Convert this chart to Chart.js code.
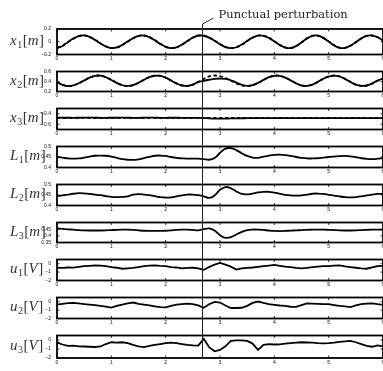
<!DOCTYPE html>
<html><head><meta charset="utf-8">
<script src="https://cdn.jsdelivr.net/npm/chart.js@4"></script>
<style>
html,body{margin:0;padding:0;background:#fff;overflow:hidden;width:383px;height:371px;}
#wrap{position:relative;width:383px;height:371px;overflow:hidden;background:#fff;}
canvas{position:absolute;left:0;}
</style></head><body><div id="wrap"></div>
<script>
// ---------------- data ----------------
const time = [0,0.1,0.2,0.3,0.4,0.5,0.6,0.7,0.8,0.9,1,1.1,1.2,1.3,1.4,1.5,1.6,1.7,1.8,1.9,2,2.1,2.2,2.3,2.4,2.5,2.6,2.7,2.8,2.9,3,3.1,3.2,3.3,3.4,3.5,3.6,3.7,3.8,3.9,4,4.1,4.2,4.3,4.4,4.5,4.6,4.7,4.8,4.9,5,5.1,5.2,5.3,5.4,5.5,5.6,5.7,5.8,5.9,6];
const timeTicks = [0,1,2,3,4,5,6];
const perturbTime = 2.67;
const perturbLabel = 'Punctual perturbation';

const x1Ref = [-0.096,-0.063,-0.009,0.048,0.089,0.099,0.078,0.031,-0.026,-0.073,-0.098,-0.092,-0.054,0.0,0.054,0.092,0.098,0.074,0.026,-0.031,-0.077,-0.099,-0.089,-0.048,0.009,0.063,0.096,0.096,0.068,0.019,-0.035,-0.079,-0.099,-0.089,-0.048,0.009,0.063,0.096,0.096,0.063,0.009,-0.048,-0.089,-0.099,-0.071,-0.013,0.05,0.092,0.097,0.064,0.006,-0.053,-0.093,-0.097,-0.065,-0.009,0.05,0.091,0.098,0.074,0.026];
const x1 = [-0.1,-0.066,-0.006,0.05,0.09,0.1,0.076,0.028,-0.028,-0.075,-0.1,-0.09,-0.05,0.004,0.056,0.093,0.097,0.072,0.022,-0.034,-0.079,-0.1,-0.087,-0.045,0.012,0.066,0.098,0.094,0.064,0.015,-0.04,-0.083,-0.1,-0.086,-0.044,0.012,0.066,0.097,0.094,0.06,0.005,-0.052,-0.091,-0.098,-0.068,-0.01,0.053,0.094,0.095,0.061,0.002,-0.057,-0.095,-0.096,-0.061,-0.005,0.053,0.093,0.096,0.07,0.022];
const x2Ref = [0.39,0.335,0.311,0.321,0.362,0.42,0.478,0.514,0.517,0.487,0.433,0.374,0.327,0.31,0.327,0.374,0.433,0.487,0.517,0.514,0.478,0.421,0.362,0.321,0.311,0.336,0.39,0.453,0.501,0.52,0.506,0.467,0.415,0.362,0.324,0.31,0.327,0.371,0.43,0.484,0.516,0.515,0.481,0.424,0.364,0.321,0.311,0.336,0.39,0.453,0.501,0.52,0.502,0.454,0.393,0.339,0.312,0.318,0.358,0.415,0.46];
const x2 = [0.392,0.333,0.309,0.323,0.364,0.422,0.476,0.512,0.518,0.485,0.43,0.372,0.325,0.311,0.329,0.376,0.435,0.489,0.515,0.512,0.476,0.419,0.36,0.32,0.312,0.338,0.392,0.415,0.435,0.452,0.46,0.452,0.425,0.38,0.335,0.312,0.329,0.373,0.432,0.486,0.514,0.513,0.479,0.422,0.362,0.32,0.313,0.338,0.392,0.455,0.499,0.518,0.5,0.452,0.391,0.338,0.313,0.32,0.36,0.417,0.458];
const x3RefLevel = -0.48;
const x3 = [-0.475,-0.476,-0.476,-0.477,-0.476,-0.475,-0.475,-0.476,-0.477,-0.477,-0.476,-0.476,-0.475,-0.476,-0.477,-0.477,-0.476,-0.475,-0.476,-0.477,-0.477,-0.476,-0.476,-0.477,-0.477,-0.477,-0.478,-0.482,-0.488,-0.492,-0.493,-0.492,-0.49,-0.488,-0.486,-0.485,-0.484,-0.484,-0.483,-0.483,-0.483,-0.483,-0.483,-0.484,-0.484,-0.483,-0.483,-0.482,-0.482,-0.483,-0.483,-0.483,-0.482,-0.482,-0.482,-0.483,-0.483,-0.482,-0.482,-0.482,-0.482];
const L1 = [0.45,0.447,0.443,0.442,0.443,0.447,0.452,0.456,0.457,0.456,0.452,0.446,0.44,0.437,0.436,0.439,0.445,0.451,0.456,0.457,0.455,0.45,0.446,0.443,0.442,0.442,0.442,0.44,0.437,0.445,0.47,0.49,0.492,0.483,0.468,0.455,0.447,0.446,0.452,0.457,0.46,0.461,0.459,0.455,0.45,0.446,0.443,0.443,0.444,0.447,0.45,0.452,0.454,0.455,0.453,0.449,0.444,0.441,0.44,0.442,0.445];
const L2 = [0.445,0.448,0.452,0.456,0.459,0.458,0.455,0.452,0.449,0.445,0.441,0.44,0.441,0.443,0.452,0.454,0.452,0.449,0.445,0.44,0.438,0.439,0.443,0.448,0.452,0.452,0.449,0.444,0.436,0.448,0.475,0.488,0.482,0.467,0.455,0.453,0.457,0.462,0.465,0.465,0.461,0.456,0.451,0.448,0.447,0.448,0.452,0.456,0.457,0.455,0.451,0.447,0.443,0.44,0.439,0.44,0.443,0.448,0.452,0.455,0.456];
const L3 = [0.455,0.452,0.449,0.446,0.443,0.441,0.44,0.44,0.44,0.441,0.443,0.445,0.446,0.446,0.444,0.441,0.438,0.437,0.437,0.437,0.438,0.441,0.445,0.447,0.447,0.444,0.441,0.45,0.456,0.44,0.405,0.385,0.39,0.41,0.43,0.443,0.447,0.447,0.444,0.44,0.437,0.436,0.437,0.439,0.441,0.443,0.445,0.447,0.447,0.447,0.445,0.443,0.441,0.44,0.44,0.441,0.443,0.445,0.447,0.447,0.446];
const u1 = [-0.48,-0.5,-0.45,-0.47,-0.38,-0.3,-0.25,-0.2,-0.24,-0.3,-0.42,-0.48,-0.6,-0.55,-0.5,-0.4,-0.3,-0.22,-0.2,-0.26,-0.3,-0.4,-0.45,-0.55,-0.5,-0.48,-0.55,-0.72,-0.4,-0.1,0.1,-0.1,-0.35,-0.7,-0.55,-0.5,-0.45,-0.38,-0.3,-0.22,-0.15,-0.25,-0.35,-0.42,-0.5,-0.55,-0.5,-0.4,-0.35,-0.3,-0.28,-0.22,-0.2,-0.32,-0.4,-0.48,-0.55,-0.6,-0.45,-0.3,-0.25];
const u2 = [-0.36,-0.25,-0.18,-0.15,-0.2,-0.28,-0.35,-0.42,-0.5,-0.58,-0.7,-0.5,-0.35,-0.2,-0.1,-0.25,-0.35,-0.45,-0.55,-0.65,-0.68,-0.5,-0.35,-0.28,-0.22,-0.3,-0.45,-0.72,-0.3,-0.02,-0.1,-0.45,-0.75,-0.75,-0.72,-0.5,-0.15,0.02,-0.15,-0.3,-0.38,-0.45,-0.5,-0.6,-0.62,-0.4,-0.2,-0.22,-0.25,-0.28,-0.3,-0.4,-0.5,-0.55,-0.65,-0.45,-0.3,-0.22,-0.2,-0.3,-0.38];
const u3 = [-0.27,-0.5,-0.65,-0.62,-0.7,-0.72,-0.75,-0.78,-0.72,-0.45,-0.25,-0.3,-0.25,-0.35,-0.55,-0.7,-0.78,-0.65,-0.55,-0.45,-0.35,-0.3,-0.35,-0.45,-0.55,-0.6,-0.62,0.13,-0.8,-1.25,-1.1,-0.7,-0.1,-0.05,-0.05,-0.1,-0.4,-1.1,-0.55,-0.45,-0.5,-0.48,-0.4,-0.35,-0.3,-0.25,-0.28,-0.3,-0.35,-0.38,-0.35,-0.3,-0.2,-0.15,-0.1,-0.25,-0.45,-0.65,-0.75,-0.6,-0.7];

const x1Ticks = [-0.2,0,0.2];
const x2Ticks = [0.2,0.4,0.6];
const x3Ticks = [-0.6,-0.4];
const LTicks = [0.4,0.45,0.5];
const L3Ticks = [0.35,0.4,0.45];
const uTicks = [-2,-1,0];

// ---------------- layout ----------------
const panelTops = [29,67,104,142,180,218,255,293,331];
const panelH = 27;
const plotLeft = 57, plotRight = 383, canvasW = 400;

const pts = (vals) => vals.map((v,i)=>({x:time[i], y:v}));
const flat = (lvl) => [{x:time[0],y:lvl},{x:time[time.length-1],y:lvl}];

const panels = [
  {sym:'x',sub:'1',unit:'m',min:-0.2,max:0.2,ticks:x1Ticks,sets:[{d:pts(x1Ref),dash:true},{d:pts(x1)}],smooth:true},
  {sym:'x',sub:'2',unit:'m',min:0.2,max:0.6,ticks:x2Ticks,sets:[{d:pts(x2Ref),dash:true},{d:pts(x2)}],smooth:true},
  {sym:'x',sub:'3',unit:'m',min:-0.7,max:-0.3,ticks:x3Ticks,sets:[{d:flat(x3RefLevel),dash:true},{d:pts(x3)}],smooth:true},
  {sym:'L',sub:'1',unit:'m',min:0.4,max:0.5,ticks:LTicks,sets:[{d:pts(L1)}],smooth:true},
  {sym:'L',sub:'2',unit:'m',min:0.4,max:0.5,ticks:LTicks,sets:[{d:pts(L2)}],smooth:true},
  {sym:'L',sub:'3',unit:'m',min:0.35,max:0.5,ticks:L3Ticks,sets:[{d:pts(L3)}],smooth:true},
  {sym:'u',sub:'1',unit:'V',min:-2,max:0.5,ticks:uTicks,sets:[{d:pts(u1)}],smooth:false},
  {sym:'u',sub:'2',unit:'V',min:-2,max:0.5,ticks:uTicks,sets:[{d:pts(u2)}],smooth:false},
  {sym:'u',sub:'3',unit:'V',min:-2,max:0.5,ticks:uTicks,sets:[{d:pts(u3)}],smooth:false},
];

const fmt = v => {
  let s = String(Math.round(v*1000)/1000);
  return s.replace('-', '\u2212');
};

function drawLabel(ctx, x, yBase, sym, sub, unit){
  ctx.fillStyle = '#333';
  ctx.textBaseline = 'alphabetic'; ctx.textAlign = 'left';
  ctx.font = 'italic 15px "Liberation Serif"';
  ctx.fillText(sym, x, yBase); x += ctx.measureText(sym).width + 0.5;
  ctx.font = '10px "Liberation Serif"';
  ctx.fillText(sub, x, yBase + 3); x += ctx.measureText(sub).width + 0.5;
  ctx.font = '15px "Liberation Serif"';
  ctx.fillText('[', x, yBase); x += ctx.measureText('[').width;
  ctx.font = 'italic 15px "Liberation Serif"';
  ctx.fillText(unit, x, yBase); x += ctx.measureText(unit).width + 0.5;
  ctx.font = '15px "Liberation Serif"';
  ctx.fillText(']', x, yBase);
}

const wrap = document.getElementById('wrap');
panels.forEach((p, i) => {
  const top = i === 0 ? 0 : panelTops[i] - 4;
  const bottom = i === panels.length - 1 ? 371 : panelTops[i+1] - 4;
  const H = bottom - top;
  const padTop = panelTops[i] - top;
  const cv = document.createElement('canvas');
  cv.width = canvasW; cv.height = H;
  cv.style.width = canvasW + 'px'; cv.style.height = H + 'px';
  cv.style.top = top + 'px';
  wrap.appendChild(cv);

  const plugin = {
    id: 'frame' + i,
    afterDraw(chart){
      const {ctx, chartArea:a, scales:{x, y}} = chart;
      ctx.save();
      // frame
      ctx.strokeStyle = '#000'; ctx.lineWidth = 1.8;
      ctx.strokeRect(a.left, a.top, a.right - a.left, a.bottom - a.top);
      // inward ticks
      ctx.lineWidth = 0.8;
      ctx.beginPath();
      x.ticks.forEach(t => {
        const px = x.getPixelForValue(t.value);
        ctx.moveTo(px, a.bottom); ctx.lineTo(px, a.bottom - 2.5);
        ctx.moveTo(px, a.top); ctx.lineTo(px, a.top + 2.5);
      });
      y.ticks.forEach(t => {
        const py = y.getPixelForValue(t.value);
        ctx.moveTo(a.left, py); ctx.lineTo(a.left + 2.5, py);
        ctx.moveTo(a.right, py); ctx.lineTo(a.right - 2.5, py);
      });
      ctx.stroke();
      // perturbation line
      const vx = Math.round(x.getPixelForValue(perturbTime)) + 0.5;
      const y0 = i === 0 ? a.top - 5 : 0;
      const y1 = i === panels.length - 1 ? a.bottom : chart.height;
      ctx.strokeStyle = '#222'; ctx.lineWidth = 1;
      ctx.beginPath(); ctx.moveTo(vx, y0); ctx.lineTo(vx, y1); ctx.stroke();
      if (i === 0) {
        ctx.beginPath(); ctx.moveTo(vx, a.top - 5); ctx.lineTo(vx + 11, a.top - 11); ctx.stroke();
        ctx.fillStyle = '#222';
        ctx.font = '11.5px "DejaVu Serif"';
        ctx.textAlign = 'left'; ctx.textBaseline = 'alphabetic';
        ctx.fillText(perturbLabel, vx + 16, a.top - 11.5);
      }
      // y label
      drawLabel(ctx, 10, (a.top + a.bottom) / 2 + 3, p.sym, p.sub, p.unit);
      ctx.restore();
    }
  };

  new Chart(cv, {
    type: 'line',
    data: {
      datasets: p.sets.map(s => ({
        data: s.d,
        borderColor: '#000',
        borderWidth: 1.8,
        borderDash: s.dash ? [3.5, 2.5] : [],
        pointRadius: 0,
        fill: false,
        tension: p.smooth ? 0.35 : 0,
      }))
    },
    options: {
      responsive: false,
      animation: false,
      devicePixelRatio: 1,
      layout: { padding: { top: padTop, left: 0, right: canvasW - plotRight, bottom: 0 } },
      plugins: { legend: { display: false }, tooltip: { enabled: false } },
      scales: {
        x: {
          type: 'linear', min: 0, max: 6,
          afterBuildTicks: s => { s.ticks = timeTicks.map(v => ({value: v})); },
          afterFit: s => { s.height = H - padTop - panelH; },
          grid: { display: false, drawTicks: false }, border: { display: false },
          ticks: { font: { size: 5, family: 'Liberation Sans', lineHeight: 1 }, color: '#111', padding: 2, maxRotation: 0, autoSkip: false,
                   callback: v => fmt(v) }
        },
        y: {
          type: 'linear', min: p.min, max: p.max,
          afterBuildTicks: s => { s.ticks = p.ticks.map(v => ({value: v})); },
          afterFit: s => { s.width = plotLeft; },
          grid: { display: false, drawTicks: false }, border: { display: false },
          ticks: { font: { size: 5, family: 'Liberation Sans', lineHeight: 1 }, color: '#111', padding: 6, autoSkip: false,
                   callback: v => fmt(v) }
        }
      }
    },
    plugins: [plugin]
  });
});
</script>
</body></html>
